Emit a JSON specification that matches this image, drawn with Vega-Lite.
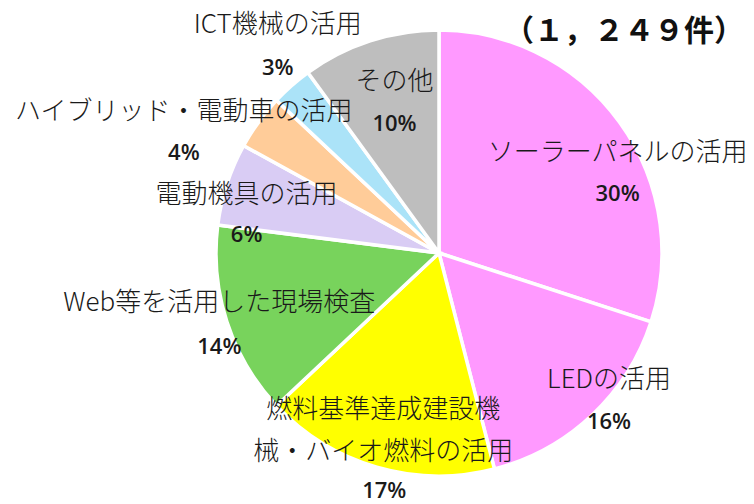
{
  "$schema": "https://vega.github.io/schema/vega-lite/v6.json",
  "width": 630,
  "height": 502,
  "autosize": "none",
  "padding": {"left": 124, "top": 2, "right": 0, "bottom": 0},
  "background": "white",
  "title": {
    "text": "（１，２４９件）",
    "anchor": "end",
    "font": "Noto Sans CJK JP",
    "fontSize": 30,
    "fontWeight": "bold",
    "color": "#111111",
    "dx": -10,
    "offset": -87
  },
  "data": {
    "values": [
      {"ord": 1, "cat": "ソーラーパネルの活用", "name": "ソーラーパネルの活用", "pct": 30, "pctLabel": "30%"},
      {"ord": 2, "cat": "LEDの活用", "name": "LEDの活用", "pct": 16, "pctLabel": "16%"},
      {"ord": 3, "cat": "燃料基準達成建設機械・バイオ燃料の活用", "name": "燃料基準達成建設機\n械・バイオ燃料の活用", "pct": 17, "pctLabel": "17%"},
      {"ord": 4, "cat": "Web等を活用した現場検査", "name": "Web等を活用した現場検査", "pct": 14, "pctLabel": "14%"},
      {"ord": 5, "cat": "電動機具の活用", "name": "電動機具の活用", "pct": 6, "pctLabel": "6%"},
      {"ord": 6, "cat": "ハイブリッド・電動車の活用", "name": "ハイブリッド・電動車の活用", "pct": 4, "pctLabel": "4%"},
      {"ord": 7, "cat": "ICT機械の活用", "name": "ICT機械の活用", "pct": 3, "pctLabel": "3%"},
      {"ord": 8, "cat": "その他", "name": "その他", "pct": 10, "pctLabel": "10%"}
    ]
  },
  "encoding": {
    "theta": {"field": "pct", "type": "quantitative", "stack": true},
    "order": {"field": "ord", "type": "quantitative"}
  },
  "layer": [
    {
      "mark": {"type": "arc", "outerRadius": 223, "stroke": "white", "strokeWidth": 3.5},
      "encoding": {
        "color": {
          "field": "cat",
          "type": "nominal",
          "legend": null,
          "scale": {
            "domain": ["ソーラーパネルの活用", "LEDの活用", "燃料基準達成建設機械・バイオ燃料の活用", "Web等を活用した現場検査", "電動機具の活用", "ハイブリッド・電動車の活用", "ICT機械の活用", "その他"],
            "range": ["#FF99FF", "#FF99FF", "#FFFF00", "#78D35C", "#D9CCF4", "#FFCC99", "#ABE3F8", "#BEBEBE"]
          }
        }
      }
    },
    {"mark": {"type": "text", "font": "Noto Sans CJK JP", "fontSize": 26, "fontWeight": 300, "color": "#1a1a1a", "baseline": "middle", "lineBreak": "\n", "lineHeight": 42, "dx": 20, "dy": 15},
     "encoding": {"radius": {"value": 196}, "text": {"condition": {"test": "datum.ord === 1", "field": "name", "type": "nominal"}, "value": ""}}},
    {"mark": {"type": "text", "font": "Open Sans", "fontSize": 22, "fontWeight": 600, "color": "#1a1a1a", "baseline": "middle", "dx": 20, "dy": 56},
     "encoding": {"radius": {"value": 196}, "text": {"condition": {"test": "datum.ord === 1", "field": "pctLabel", "type": "nominal"}, "value": ""}}},
    {"mark": {"type": "text", "font": "Noto Sans CJK JP", "fontSize": 26, "fontWeight": 300, "color": "#1a1a1a", "baseline": "middle", "lineBreak": "\n", "lineHeight": 42, "dx": 16, "dy": -37},
     "encoding": {"radius": {"value": 225}, "text": {"condition": {"test": "datum.ord === 2", "field": "name", "type": "nominal"}, "value": ""}}},
    {"mark": {"type": "text", "font": "Open Sans", "fontSize": 22, "fontWeight": 600, "color": "#1a1a1a", "baseline": "middle", "dx": 16, "dy": 5},
     "encoding": {"radius": {"value": 225}, "text": {"condition": {"test": "datum.ord === 2", "field": "pctLabel", "type": "nominal"}, "value": ""}}},
    {"mark": {"type": "text", "font": "Noto Sans CJK JP", "fontSize": 26, "fontWeight": 300, "color": "#1a1a1a", "baseline": "middle", "lineBreak": "\n", "lineHeight": 42, "dx": 2, "dy": -42},
     "encoding": {"radius": {"value": 207}, "text": {"condition": {"test": "datum.ord === 3", "field": "name", "type": "nominal"}, "value": ""}}},
    {"mark": {"type": "text", "font": "Open Sans", "fontSize": 22, "fontWeight": 600, "color": "#1a1a1a", "baseline": "middle", "dx": 3, "dy": 39},
     "encoding": {"radius": {"value": 207}, "text": {"condition": {"test": "datum.ord === 3", "field": "pctLabel", "type": "nominal"}, "value": ""}}},
    {"mark": {"type": "text", "font": "Noto Sans CJK JP", "fontSize": 26, "fontWeight": 300, "color": "#1a1a1a", "baseline": "middle", "lineBreak": "\n", "lineHeight": 42, "dx": 0, "dy": -21},
     "encoding": {"radius": {"value": 231}, "text": {"condition": {"test": "datum.ord === 4", "field": "name", "type": "nominal"}, "value": ""}}},
    {"mark": {"type": "text", "font": "Open Sans", "fontSize": 22, "fontWeight": 600, "color": "#1a1a1a", "baseline": "middle", "dx": 0, "dy": 23},
     "encoding": {"radius": {"value": 231}, "text": {"condition": {"test": "datum.ord === 4", "field": "pctLabel", "type": "nominal"}, "value": ""}}},
    {"mark": {"type": "text", "font": "Noto Sans CJK JP", "fontSize": 26, "fontWeight": 300, "color": "#1a1a1a", "baseline": "middle", "lineBreak": "\n", "lineHeight": 42, "dx": -6, "dy": 3},
     "encoding": {"radius": {"value": 196}, "text": {"condition": {"test": "datum.ord === 5", "field": "name", "type": "nominal"}, "value": ""}}},
    {"mark": {"type": "text", "font": "Open Sans", "fontSize": 22, "fontWeight": 600, "color": "#1a1a1a", "baseline": "middle", "dx": -6, "dy": 43},
     "encoding": {"radius": {"value": 196}, "text": {"condition": {"test": "datum.ord === 5", "field": "pctLabel", "type": "nominal"}, "value": ""}}},
    {"mark": {"type": "text", "font": "Noto Sans CJK JP", "fontSize": 26, "fontWeight": 300, "color": "#1a1a1a", "baseline": "middle", "lineBreak": "\n", "lineHeight": 42, "dx": -27, "dy": 25},
     "encoding": {"radius": {"value": 282}, "text": {"condition": {"test": "datum.ord === 6", "field": "name", "type": "nominal"}, "value": ""}}},
    {"mark": {"type": "text", "font": "Open Sans", "fontSize": 22, "fontWeight": 600, "color": "#1a1a1a", "baseline": "middle", "dx": -27, "dy": 66},
     "encoding": {"radius": {"value": 282}, "text": {"condition": {"test": "datum.ord === 6", "field": "pctLabel", "type": "nominal"}, "value": ""}}},
    {"mark": {"type": "text", "font": "Noto Sans CJK JP", "fontSize": 26, "fontWeight": 300, "color": "#1a1a1a", "baseline": "middle", "lineBreak": "\n", "lineHeight": 42, "dx": 12, "dy": -31},
     "encoding": {"radius": {"value": 262}, "text": {"condition": {"test": "datum.ord === 7", "field": "name", "type": "nominal"}, "value": ""}}},
    {"mark": {"type": "text", "font": "Open Sans", "fontSize": 22, "fontWeight": 600, "color": "#1a1a1a", "baseline": "middle", "dx": 12, "dy": 12},
     "encoding": {"radius": {"value": 262}, "text": {"condition": {"test": "datum.ord === 7", "field": "pctLabel", "type": "nominal"}, "value": ""}}},
    {"mark": {"type": "text", "font": "Noto Sans CJK JP", "fontSize": 26, "fontWeight": 300, "color": "#1a1a1a", "baseline": "middle", "lineBreak": "\n", "lineHeight": 42, "dx": 4, "dy": -22},
     "encoding": {"radius": {"value": 157}, "text": {"condition": {"test": "datum.ord === 8", "field": "name", "type": "nominal"}, "value": ""}}},
    {"mark": {"type": "text", "font": "Open Sans", "fontSize": 22, "fontWeight": 600, "color": "#1a1a1a", "baseline": "middle", "dx": 4, "dy": 20},
     "encoding": {"radius": {"value": 157}, "text": {"condition": {"test": "datum.ord === 8", "field": "pctLabel", "type": "nominal"}, "value": ""}}}
  ]
}
